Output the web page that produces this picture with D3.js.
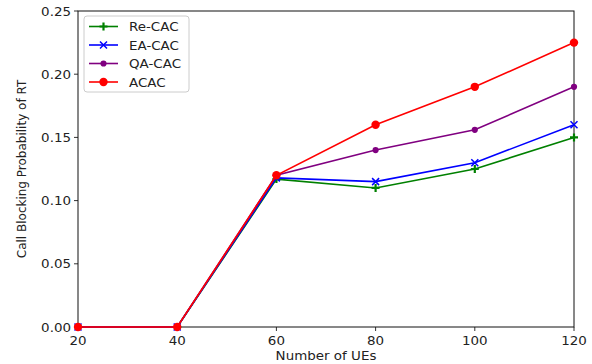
<!DOCTYPE html>
<html><head><meta charset="utf-8">
<script src="https://cdn.jsdelivr.net/npm/d3@7"></script>
<style>body{margin:0;background:#fff}svg{display:block}text{font-family:"DejaVu Sans",sans-serif}</style>
</head><body><svg id="c" width="592" height="364"></svg>
<script>
const xValues = [20, 40, 60, 80, 100, 120];
const reCAC = [0, 0, 0.117, 0.110, 0.125, 0.150];
const eaCAC = [0, 0, 0.118, 0.115, 0.130, 0.160];
const qaCAC = [0, 0, 0.120, 0.140, 0.156, 0.190];
const acac  = [0, 0, 0.120, 0.160, 0.190, 0.225];
const seriesNames = ["Re-CAC", "EA-CAC", "QA-CAC", "ACAC"];
const seriesColors = ["green", "blue", "purple", "red"];
const seriesMarkers = ["plus", "x", "hex", "circle"];
const yTicks = [0, 0.05, 0.10, 0.15, 0.20, 0.25];
const xTicks = [20, 40, 60, 80, 100, 120];

const svg = d3.select("#c");
const L = 78, R = 574, T = 11, B = 327;
const SX = 1.12;
const x = d3.scaleLinear().domain([20, 120]).range([L, R]);
const y = d3.scaleLinear().domain([0, 0.25]).range([B, T]);
const allSeries = [reCAC, eaCAC, qaCAC, acac];

function hText(g, tx, ty, str, anchor) {
  return g.append("g").attr("transform", `translate(${tx},${ty}) scale(${SX},1)`)
    .append("text").attr("text-anchor", anchor).attr("font-size", 12).attr("fill", "#222").text(str);
}

// ticks
yTicks.forEach(v => {
  svg.append("line").attr("x1", L - 4).attr("x2", L).attr("y1", y(v)).attr("y2", y(v)).attr("stroke", "#333");
  hText(svg, L - 7, y(v) + 4.5, d3.format(".2f")(v), "end");
});
xTicks.forEach(v => {
  svg.append("line").attr("x1", x(v)).attr("x2", x(v)).attr("y1", B).attr("y2", B + 4).attr("stroke", "#333");
  hText(svg, x(v), B + 18, d3.format("d")(v), "middle");
});
svg.append("rect").attr("x", L).attr("y", T).attr("width", R - L).attr("height", B - T)
  .attr("fill", "none").attr("stroke", "#111").attr("stroke-width", 1);

const line = d3.line().x((d, i) => x(xValues[i])).y(d => y(d));
function marker(g, type, cx, cy, color) {
  if (type === "plus") {
    g.append("path").attr("d", `M${cx-4},${cy}H${cx+4}M${cx},${cy-4}V${cy+4}`).attr("stroke", color).attr("stroke-width", 2.2);
  } else if (type === "x") {
    g.append("path").attr("d", `M${cx-3.5},${cy-3.5}L${cx+3.5},${cy+3.5}M${cx-3.5},${cy+3.5}L${cx+3.5},${cy-3.5}`).attr("stroke", color).attr("stroke-width", 1.5);
  } else if (type === "hex") {
    g.append("path").attr("d", d3.symbol(d3.symbolCircle, 30)()).attr("transform", `translate(${cx},${cy})`).attr("fill", color);
  } else {
    g.append("circle").attr("cx", cx).attr("cy", cy).attr("r", 4.2).attr("fill", color);
  }
}
allSeries.forEach((s, k) => {
  const g = svg.append("g");
  g.append("path").datum(s).attr("d", line).attr("fill", "none").attr("stroke", seriesColors[k]).attr("stroke-width", 1.6);
  s.forEach((v, i) => marker(g, seriesMarkers[k], x(xValues[i]), y(v), seriesColors[k]));
});

// labels
hText(svg, (L + R) / 2, 360, "Number of UEs", "middle");
svg.append("text").attr("transform", `translate(26,${(T + B) / 2}) rotate(-90)`).attr("text-anchor", "middle").attr("font-size", 12).attr("fill", "#222").text("Call Blocking Probability of RT");

// legend
const lg = svg.append("g");
lg.append("rect").attr("x", 84).attr("y", 16).attr("width", 105).attr("height", 76).attr("rx", 3)
  .attr("fill", "#fff").attr("fill-opacity", 0.8).attr("stroke", "#ccc");
seriesNames.forEach((n, k) => {
  const yy = 26.5 + k * 18.5;
  lg.append("line").attr("x1", 89).attr("x2", 118).attr("y1", yy).attr("y2", yy).attr("stroke", seriesColors[k]).attr("stroke-width", 1.6);
  marker(lg, seriesMarkers[k], 103.5, yy, seriesColors[k]);
  hText(lg, 129, yy + 4.5, n, "start");
});
</script></body></html>
